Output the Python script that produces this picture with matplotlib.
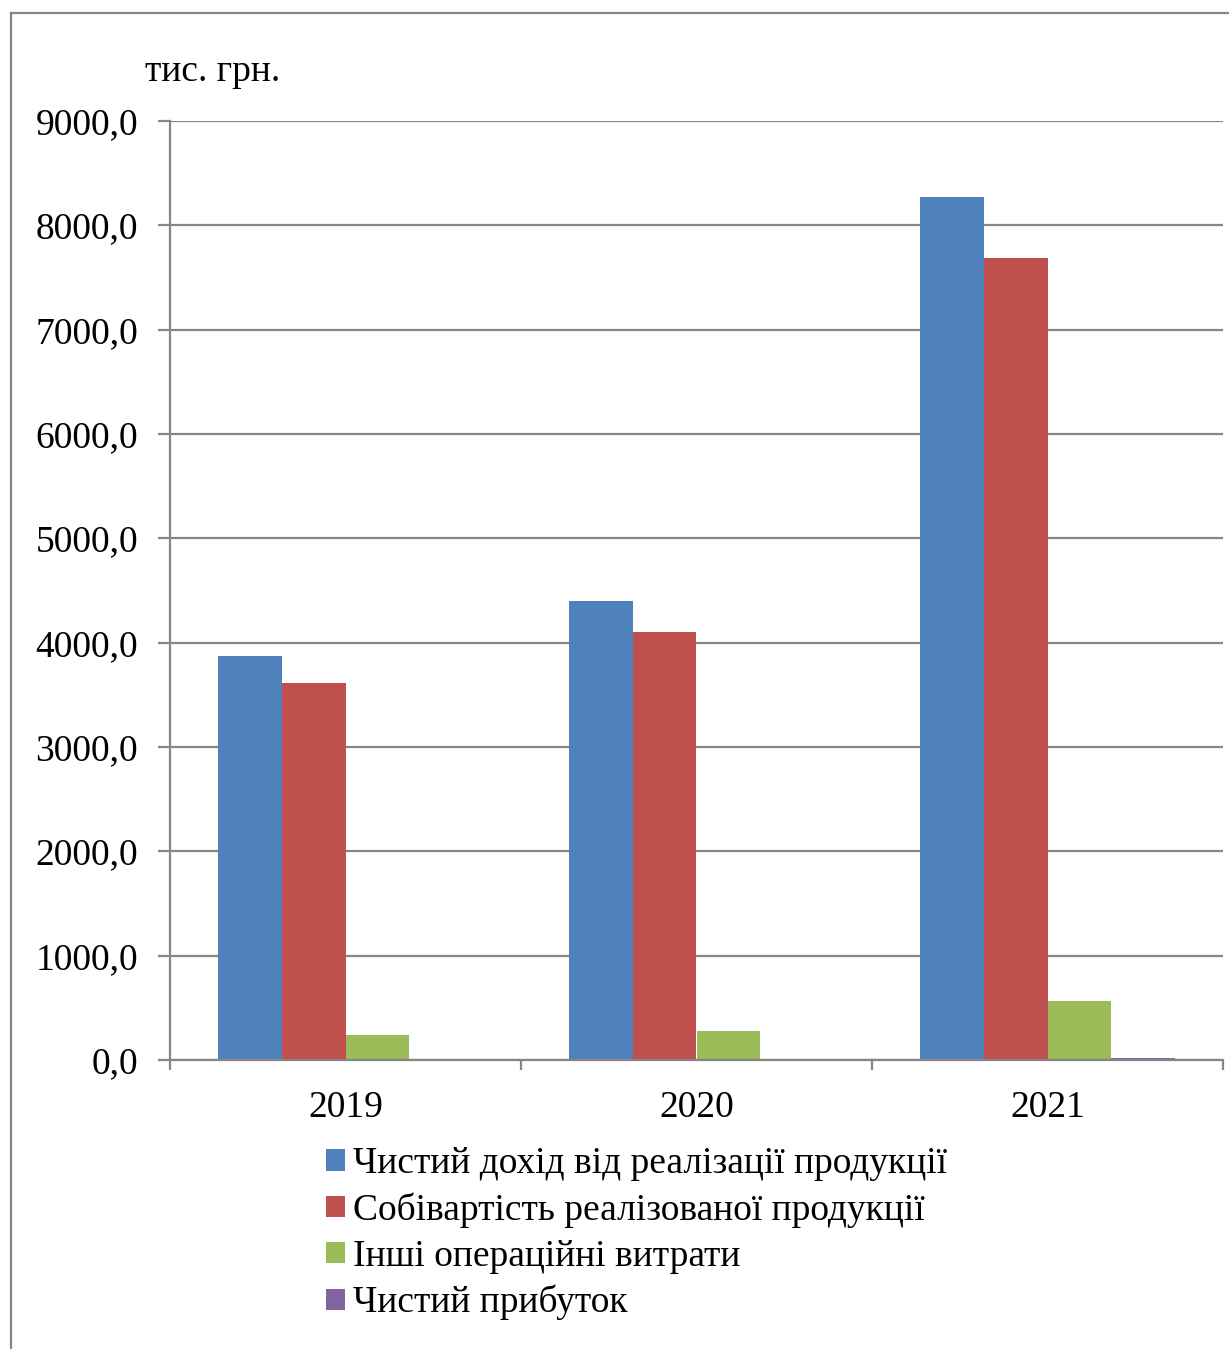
import matplotlib
matplotlib.use("Agg")
import matplotlib.pyplot as plt
import numpy as np
from matplotlib.lines import Line2D
from matplotlib.patches import Patch

# Data (тис. грн.)
years = ["2019", "2020", "2021"]
series_names = [
    "Чистий дохід від реалізації продукції",
    "Собівартість реалізованої продукції",
    "Інші операційні витрати",
    "Чистий прибуток",
]
revenue = [3872.0, 4399.0, 8272.0]
cost_of_sales = [3613.0, 4102.0, 7687.0]
other_expenses = [240.0, 278.0, 565.0]
net_profit = [2.0, 3.0, 15.0]
y_ticks = [0, 1000, 2000, 3000, 4000, 5000, 6000, 7000, 8000, 9000]

colors = ["#4F81BD", "#C0504D", "#9BBB59", "#8064A2"]
grid_color = "#868686"
fs = 27

plt.rcParams["font.family"] = ["Liberation Serif", "DejaVu Serif"]

W, H = 1229, 1349
fig = plt.figure(figsize=(W / 100, H / 100), dpi=100)

ax = fig.add_axes([170 / W, 1 - 1060 / H, (1223 - 170) / W, (1060 - 121) / H])

data = [revenue, cost_of_sales, other_expenses, net_profit]
n = len(data)
bar_w = 0.182
x = np.arange(len(years))
for i, (vals, c, name) in enumerate(zip(data, colors, series_names)):
    offs = (i - (n - 1) / 2) * bar_w
    ax.bar(x + offs, vals, width=bar_w, color=c, edgecolor="none", label=name, zorder=2)

ax.set_xlim(-0.5, len(years) - 0.5)
ax.set_ylim(0, 9000)
ax.set_yticks(y_ticks)
ax.set_yticklabels([f"{v:.1f}".replace(".", ",") for v in y_ticks], fontsize=fs)
ax.yaxis.grid(True, color=grid_color, linewidth=1.6, zorder=0)
ax.set_axisbelow(True)

ax.set_xticks(x)
ax.set_xticklabels(years, fontsize=fs)
ax.tick_params(axis="x", length=0, pad=22)
ax.set_xticks(np.arange(-0.5, len(years)), minor=True)
ax.tick_params(axis="x", which="minor", length=7, width=1.6, color=grid_color)
ax.tick_params(axis="y", length=9, width=1.6, color=grid_color, pad=14)

for s in ["top", "right"]:
    ax.spines[s].set_visible(False)
for s in ["left", "bottom"]:
    ax.spines[s].set_color(grid_color)
    ax.spines[s].set_linewidth(1.6)

# Unit label above the value axis
fig.text(145 / W, 1 - 72 / H, "тис. грн.", fontsize=fs, ha="left", va="center")

# Legend below the plot
handles = [Patch(facecolor=c, edgecolor="none") for c in colors]
fig.legend(handles, series_names, loc="upper left",
           bbox_to_anchor=(307 / W, 1 - 1128 / H), frameon=False,
           fontsize=fs, handlelength=0.5, handleheight=0.5,
           handletextpad=0.22, labelspacing=0.3, borderpad=0)

# Chart frame
fig.add_artist(Line2D([11 / W, 11 / W], [0, 1 - 13 / H], transform=fig.transFigure,
                      color=grid_color, linewidth=1.6))
fig.add_artist(Line2D([11 / W, 1], [1 - 13 / H, 1 - 13 / H], transform=fig.transFigure,
                      color=grid_color, linewidth=1.6))

fig.savefig("out.png", dpi=100, facecolor="white")
